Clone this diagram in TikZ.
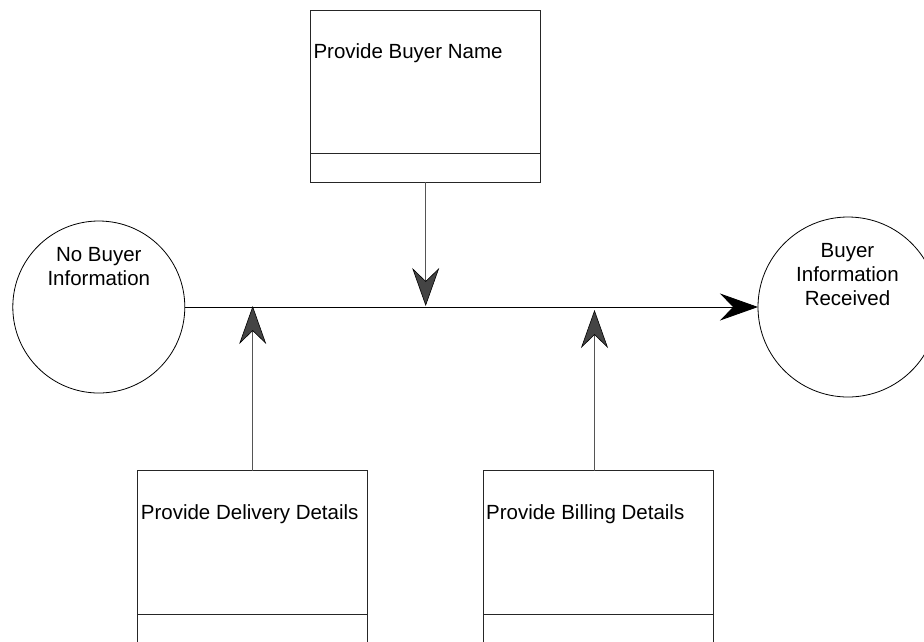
\documentclass[tikz,border=0pt]{standalone}
\usepackage{fontspec}
\setmainfont{Liberation Sans}
\usetikzlibrary{arrows.meta}
\definecolor{linkgray}{HTML}{555555}
\definecolor{headgray}{HTML}{444444}
\begin{document}
\begin{tikzpicture}[x=1pt,y=-1pt,
  every node/.style={inner sep=0pt, outer sep=0pt},
  box/.style={draw=black!85, line width=0.9pt, fill=white, rectangle,
    minimum width=230pt, minimum height=172pt, anchor=north west},
  state/.style={draw=black, line width=0.8pt, circle, minimum size=#1},
  boxtext/.style={font=\fontsize{20.5}{24}\selectfont, anchor=base west},
  lbl/.style={font=\fontsize{20.5}{24}\selectfont, align=center, anchor=north},
  link/.style={draw=linkgray, line width=0.9pt},
  uphead/.style={-{Stealth[length=38pt,width=27pt,inset=13pt,fill=headgray,color=black,line width=0.6pt]}},
  mainhead/.style={-{Stealth[length=38pt,width=27pt,inset=13pt,fill=black,color=black]}}
]
\useasboundingbox (0,0) rectangle (924,641);

% activity boxes with a lower compartment
\node[box] (name) at (310.7,10) {};
\draw[black!85, line width=0.9pt] ([yshift=28.3pt]name.south west) -- ([yshift=28.3pt]name.south east);
\node[boxtext] at ([xshift=2.8pt,yshift=-48.3pt]name.north west) {Provide Buyer Name};

\node[box] (delivery) at (137.3,470.7) {};
\draw[black!85, line width=0.9pt] ([yshift=28.3pt]delivery.south west) -- ([yshift=28.3pt]delivery.south east);
\node[boxtext] at ([xshift=3.6pt,yshift=-48.6pt]delivery.north west) {Provide Delivery Details};

\node[box] (billing) at (483.3,470.7) {};
\draw[black!85, line width=0.9pt] ([yshift=28.3pt]billing.south west) -- ([yshift=28.3pt]billing.south east);
\node[boxtext] at ([xshift=2.8pt,yshift=-48.6pt]billing.north west) {Provide Billing Details};

% start and end states
\node[state=172pt] (start) at (98.8,307) {};
\node[lbl] at (98.8,247.2) {No Buyer\\Information};

\node[state=180pt] (finish) at (848,307) {};
\node[lbl] at (847.5,243.4) {Buyer\\Information\\Received};

% junctions on the main flow line
\coordinate (jname) at (425.7,306);
\coordinate (jdel) at (252.7,306);
\coordinate (jbill) at (594.5,310);

% main flow
\draw[black, line width=0.9pt, mainhead] (start.east) -- (finish.west);

% contributing activities
\draw[link, uphead] (name.south -| jname) -- (jname);
\draw[link, uphead] (delivery.north -| jdel) -- (jdel);
\draw[link, uphead] (billing.north -| jbill) -- (jbill);
\end{tikzpicture}
\end{document}
